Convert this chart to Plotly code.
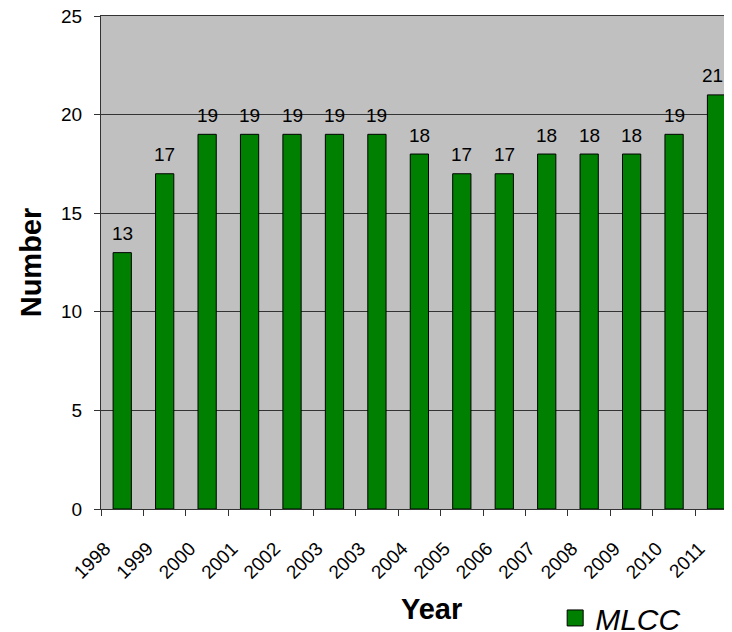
import plotly.graph_objects as go

years = ["1998", "1999", "2000", "2001", "2002", "2003", "2003", "2004",
         "2005", "2006", "2007", "2008", "2009", "2010", "2011"]
counts = [13, 17, 19, 19, 19, 19, 19, 18, 17, 17, 18, 18, 18, 19, 21]
series_name = "MLCC"
y_ticks = [0, 5, 10, 15, 20, 25]

FONT = "Arial, Liberation Sans, sans-serif"
idx = list(range(len(years)))

fig = go.Figure()
fig.add_trace(go.Bar(
    x=idx, y=counts, width=0.43,
    marker=dict(color="#008000", line=dict(color="#000000", width=1)),
    showlegend=False, cliponaxis=False,
))
# legend entry for the series
fig.add_trace(go.Scatter(
    x=[None], y=[None], mode="markers", name=series_name,
    marker=dict(symbol="square", size=16, color="#008000",
                line=dict(color="#000000", width=1)),
))

for i, v in zip(idx, counts):
    # keep the last value label fully inside the visible page edge
    fig.add_annotation(x=i, y=v, text=str(v), showarrow=False,
                       yanchor="middle", yshift=19,
                       xshift=-4 if i == idx[-1] else 0,
                       font=dict(family=FONT, size=19, color="#000000"))

fig.add_annotation(xref="paper", yref="paper", x=0.53, y=-0.203,
                   xanchor="center", yanchor="middle", showarrow=False,
                   text="Year",
                   font=dict(family=FONT, size=29, color="#000000", weight="bold"))

fig.update_layout(
    width=716, height=624,
    margin=dict(l=93, r=0, t=8, b=123, autoexpand=False),
    paper_bgcolor="#FFFFFF", plot_bgcolor="#C0C0C0",
    font=dict(family=FONT, color="#000000"),
    showlegend=True,
    legend=dict(x=0.729, y=-0.221, xanchor="left", yanchor="middle",
                orientation="h", bgcolor="rgba(0,0,0,0)",
                font=dict(family=FONT, size=30, style="italic", color="#000000")),
    xaxis=dict(
        range=[-0.5, 14.176], automargin=False,
        tickmode="array", tickvals=[i - 0.5 for i in idx], ticktext=years,
        tickangle=-45, ticks="outside", ticklen=6, tickcolor="#333333",
        ticklabelshift=4, ticklabelstandoff=14, ticklabeloverflow="allow",
        tickfont=dict(family=FONT, size=19, color="#000000"),
        showline=True, mirror=True, linecolor="#333333", linewidth=1,
        showgrid=False, zeroline=False, fixedrange=True,
    ),
    yaxis=dict(
        range=[0, 25], automargin=False, tickmode="array", tickvals=y_ticks,
        ticks="outside", ticklen=6, tickcolor="#333333",
        ticklabelstandoff=8, ticklabeloverflow="allow",
        tickfont=dict(family=FONT, size=19, color="#000000"),
        showline=True, linecolor="#333333", linewidth=1,
        showgrid=True, gridcolor="#333333", gridwidth=1,
        zeroline=False,
        title=dict(text="Number", standoff=10,
                   font=dict(family=FONT, size=29, color="#000000", weight="bold")),
    ),
)

fig.write_html("out.html")
